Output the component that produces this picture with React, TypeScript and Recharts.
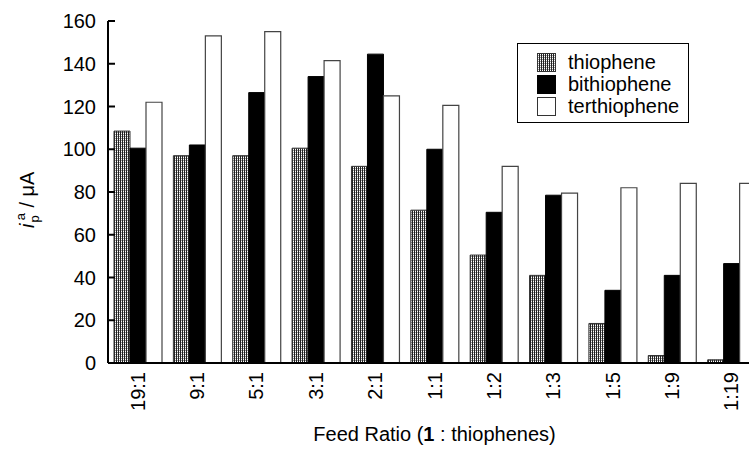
import { Bar, BarChart, XAxis, YAxis } from "recharts";

const CATEGORIES = ["19:1", "9:1", "5:1", "3:1", "2:1", "1:1", "1:2", "1:3", "1:5", "1:9", "1:19"];
const THIOPHENE = [108.5, 97, 97, 100.5, 92, 71.5, 50.5, 41, 18.5, 3.5, 1.5];
const BITHIOPHENE = [100.5, 102, 126.5, 134, 144.5, 100, 70.5, 78.5, 34, 41, 46.5];
const TERTHIOPHENE = [122, 153, 155, 141.5, 125, 120.5, 92, 79.5, 82, 84, 84];
const Y_TICKS = [0, 20, 40, 60, 80, 100, 120, 140, 160];

const FONT = "'Liberation Sans', Arial, sans-serif";
const FS = 20;

const data = CATEGORIES.map((c, i) => ({
  ratio: c,
  thiophene: THIOPHENE[i],
  bithiophene: BITHIOPHENE[i],
  terthiophene: TERTHIOPHENE[i],
}));

// vertical hatch used for the thiophene bars
function Hatch({ id }: { id: string }) {
  return (
    <pattern id={id} width="2" height="2" patternUnits="userSpaceOnUse">
      <rect width="2" height="2" fill="#fff" />
      <rect x="0" y="0" width="1" height="2" fill="#222" />
      <rect x="1" y="0" width="1" height="1" fill="#999" />
    </pattern>
  );
}

const XTick = (props: any) => {
  const { x, y, payload } = props;
  return (
    <text
      x={x}
      y={y}
      transform={`rotate(-90, ${x}, ${y})`}
      textAnchor="end"
      dominantBaseline="central"
      fontFamily={FONT}
      fontSize={FS}
      fill="#000"
    >
      {payload.value}
    </text>
  );
};

const YTick = (props: any) => {
  const { x, y, payload } = props;
  return (
    <g>
      <line x1={x} y1={y} x2={x + 7} y2={y} stroke="#000" strokeWidth={2} />
      <text
        x={x - 12}
        y={y}
        textAnchor="end"
        dominantBaseline="central"
        fontFamily={FONT}
        fontSize={FS}
        fill="#000"
      >
        {payload.value}
      </text>
    </g>
  );
};

const YLabel = () => {
  const x = 34;
  const y = 228;
  return (
    <text
      x={x}
      y={y}
      transform={`rotate(-90, ${x}, ${y})`}
      fontFamily={FONT}
      fontSize={FS}
      fill="#000"
    >
      <tspan fontStyle="italic">i</tspan>
      <tspan fontSize={13} dx={1} dy={5}>p</tspan>
      <tspan fontSize={13} dx={-5} dy={-14}>a</tspan>
      <tspan dy={9}>{" / μA"}</tspan>
    </text>
  );
};

const XLabel = (props: any) => {
  const vb = props.viewBox;
  const cx = vb.x + vb.width / 2;
  return (
    <text x={cx} y={441} textAnchor="middle" fontFamily={FONT} fontSize={FS} fill="#000">
      Feed Ratio (<tspan fontWeight="bold">1</tspan> : thiophenes)
    </text>
  );
};

const LEGEND_ITEMS = [
  { name: "thiophene", fill: "url(#hatchLegend)", stroke: "#333" },
  { name: "bithiophene", fill: "#000", stroke: "#000" },
  { name: "terthiophene", fill: "#fff", stroke: "#333" },
];

const LegendBox = () => (
  <div
    style={{
      position: "absolute",
      left: 517,
      top: 43,
      border: "1.5px solid #000",
      width: 172,
      height: 80,
      boxSizing: "border-box",
      paddingTop: 7,
      paddingLeft: 19,
      fontFamily: FONT,
      fontSize: FS,
      background: "#fff",
    }}
  >
    <svg width={0} height={0} style={{ position: "absolute" }}>
      <defs>
        <Hatch id="hatchLegend" />
      </defs>
    </svg>
    {LEGEND_ITEMS.map((it) => (
      <div key={it.name} style={{ display: "flex", alignItems: "center", height: 22 }}>
        <svg width={19} height={19} style={{ marginRight: 12 }}>
          <rect x={0.5} y={0.5} width={18} height={18} fill={it.fill} stroke={it.stroke} />
        </svg>
        <span style={{ lineHeight: "22px" }}>{it.name}</span>
      </div>
    ))}
  </div>
);

export default function App() {
  return (
    <div
      style={{
        position: "fixed",
        left: 0,
        top: 0,
        width: 749,
        height: 451,
        overflow: "hidden",
        background: "#fff",
      }}
    >
      <BarChart
        width={772}
        height={451}
        data={data}
        margin={{ top: 21, right: 11, left: 0, bottom: 0 }}
        barGap={0}
        barCategoryGap={6}
      >
        <defs>
          <Hatch id="hatchBar" />
        </defs>
        <XAxis
          dataKey="ratio"
          height={88}
          tickSize={0}
          tickMargin={9}
          tick={<XTick />}
          axisLine={{ stroke: "#000", strokeWidth: 2 }}
          tickLine={false}
          interval={0}
          label={{ content: <XLabel /> }}
        />
        <YAxis
          width={108}
          domain={[0, 160]}
          ticks={Y_TICKS}
          tickSize={0}
          tickMargin={0}
          tick={<YTick />}
          tickLine={false}
          axisLine={{ stroke: "#000", strokeWidth: 2 }}
          label={{ content: <YLabel /> }}
        />
        <Bar dataKey="thiophene" fill="url(#hatchBar)" stroke="#333" strokeWidth={1} isAnimationActive={false} />
        <Bar dataKey="bithiophene" fill="#000" stroke="#000" strokeWidth={1} isAnimationActive={false} />
        <Bar dataKey="terthiophene" fill="#fff" stroke="#444" strokeWidth={1.2} isAnimationActive={false} />
      </BarChart>
      <LegendBox />
    </div>
  );
}
